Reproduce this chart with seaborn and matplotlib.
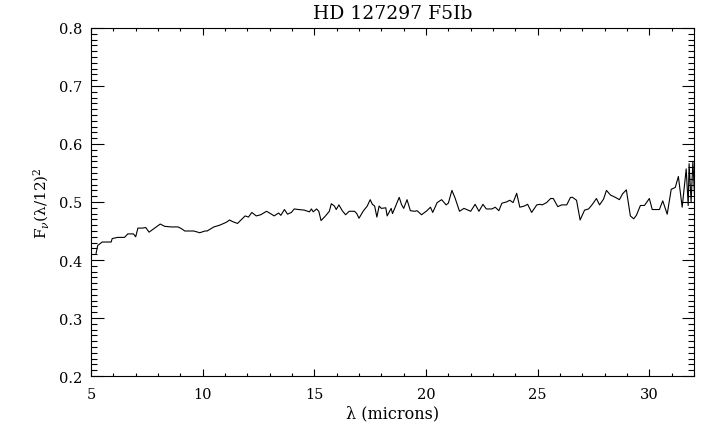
import numpy as np
import pandas as pd
import matplotlib
matplotlib.use("Agg")
import matplotlib.pyplot as plt
from matplotlib.ticker import MultipleLocator
import seaborn as sns

# spectrum
wavelength = [
    5.22, 5.30, 5.5, 5.9, 5.95, 6.2, 6.5, 6.65, 6.9, 7.0, 7.1, 7.3, 7.45, 7.6,
    8.1, 8.3, 8.6, 8.9, 9.05, 9.2, 9.6, 9.87, 10.1, 10.2, 10.5, 10.76, 11.0,
    11.1, 11.2, 11.35, 11.56, 11.74, 11.9, 12.05, 12.2, 12.4, 12.6, 12.86,
    13.08, 13.2, 13.4, 13.5, 13.66, 13.8, 13.97, 14.1, 14.3, 14.55, 14.78,
    14.87, 14.95, 15.1, 15.2, 15.3, 15.5, 15.67, 15.76, 15.9, 15.98, 16.1,
    16.25, 16.4, 16.56, 16.8, 16.9, 17.0, 17.2, 17.37, 17.5, 17.6, 17.7, 17.8,
    17.9, 18.0, 18.2, 18.26, 18.44, 18.5, 18.66, 18.8, 18.9, 19.0, 19.15,
    19.3, 19.5, 19.6, 19.8, 20.04, 20.2, 20.3, 20.5, 20.7, 20.9, 21.0, 21.16,
    21.3, 21.5, 21.7, 22.0, 22.2, 22.37, 22.55, 22.7, 22.95, 23.1, 23.26,
    23.4, 23.6, 23.75, 23.9, 24.06, 24.2, 24.4, 24.55, 24.73, 24.96, 25.1,
    25.2, 25.4, 25.58, 25.7, 25.9, 26.07, 26.3, 26.47, 26.56, 26.74, 26.9,
    27.1, 27.28, 27.45, 27.63, 27.77, 27.95, 28.08, 28.26, 28.48, 28.66, 28.8,
    28.97, 29.15, 29.3, 29.42, 29.6, 29.78, 30.0, 30.13, 30.45, 30.6, 30.8,
    30.98, 31.16, 31.3, 31.47, 31.65, 31.74, 31.78, 31.87, 31.95, 32.05,
]
flux = [
    0.410, 0.425, 0.431, 0.431, 0.437, 0.439, 0.439, 0.445, 0.445, 0.440,
    0.455, 0.455, 0.456, 0.448, 0.462, 0.458, 0.457, 0.457, 0.454, 0.450,
    0.450, 0.447, 0.450, 0.450, 0.457, 0.460, 0.464, 0.466, 0.469, 0.466,
    0.463, 0.470, 0.476, 0.474, 0.482, 0.476, 0.478, 0.484, 0.479, 0.476,
    0.481, 0.477, 0.487, 0.479, 0.482, 0.488, 0.487, 0.486, 0.483, 0.488,
    0.483, 0.488, 0.484, 0.468, 0.476, 0.484, 0.497, 0.493, 0.487, 0.495,
    0.485, 0.478, 0.484, 0.484, 0.480, 0.472, 0.485, 0.493, 0.504, 0.496,
    0.493, 0.474, 0.493, 0.489, 0.490, 0.476, 0.489, 0.480, 0.495, 0.508,
    0.496, 0.489, 0.504, 0.485, 0.484, 0.485, 0.478, 0.485, 0.491, 0.482,
    0.499, 0.504, 0.495, 0.498, 0.520, 0.507, 0.484, 0.489, 0.484, 0.496,
    0.484, 0.496, 0.488, 0.488, 0.491, 0.485, 0.498, 0.500, 0.503, 0.499,
    0.515, 0.491, 0.493, 0.496, 0.482, 0.495, 0.496, 0.495, 0.499, 0.506,
    0.506, 0.492, 0.495, 0.495, 0.508, 0.508, 0.503, 0.469, 0.486, 0.488,
    0.496, 0.506, 0.495, 0.505, 0.520, 0.512, 0.508, 0.504, 0.514, 0.521,
    0.476, 0.471, 0.477, 0.494, 0.494, 0.506, 0.487, 0.487, 0.502, 0.479,
    0.522, 0.525, 0.544, 0.491, 0.557, 0.494, 0.566, 0.500, 0.570, 0.490,
]
x_ticks = [5, 10, 15, 20, 25, 30]
y_ticks = [0.2, 0.3, 0.4, 0.5, 0.6, 0.7, 0.8]

df = pd.DataFrame({'wavelength': wavelength, 'flux': flux})

sns.set_theme(style='ticks')
plt.rcParams['font.family'] = ['DejaVu Serif']
plt.rcParams['mathtext.fontset'] = 'dejavuserif'
plt.rcParams['text.color'] = 'black'
plt.rcParams['axes.labelcolor'] = 'black'

fig = plt.figure(figsize=(7.2, 4.39), dpi=100)
ax = fig.add_axes([0.1264, 0.1412, 0.8375, 0.7928])

sns.lineplot(data=df, x='wavelength', y='flux', sort=False, estimator=None,
             color='black', linewidth=0.8, ax=ax)

ax.set_xlim(5, 32)
ax.set_ylim(0.2, 0.8)
ax.set_xticks(x_ticks)
ax.set_xticklabels([str(t) for t in x_ticks])
ax.set_yticks(y_ticks)
ax.set_yticklabels(['%.1f' % t for t in y_ticks])
ax.xaxis.set_minor_locator(MultipleLocator(1))
ax.yaxis.set_minor_locator(MultipleLocator(0.01))

ax.tick_params(axis='both', which='both', direction='in', top=True, right=True,
               colors='black', labelsize=10.5, width=0.8)
ax.tick_params(axis='x', which='major', length=5, pad=8)
ax.tick_params(axis='x', which='minor', length=2.5)
ax.tick_params(axis='y', which='major', length=9, pad=6)
ax.tick_params(axis='y', which='minor', length=4.5)
for s in ax.spines.values():
    s.set_linewidth(0.8)
    s.set_color('black')

ax.set_title('HD 127297 F5Ib', fontsize=13.5, pad=7, color='black')
ax.set_xlabel('λ (microns)', fontsize=11.5, labelpad=2)
ax.set_ylabel(r'F$_{\nu}$(λ/12)$^{2}$', fontsize=11, labelpad=6)

fig.savefig('out.png', dpi=100, facecolor='white')
